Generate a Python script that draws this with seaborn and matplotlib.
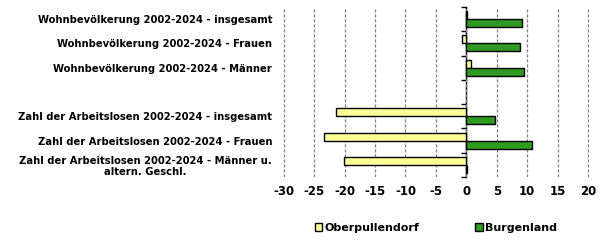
import matplotlib
matplotlib.use("Agg")
import matplotlib.pyplot as plt
import seaborn as sns
import pandas as pd
import numpy as np

categories = [
    "Wohnbevölkerung 2002-2024 - insgesamt",
    "Wohnbevölkerung 2002-2024 - Frauen",
    "Wohnbevölkerung 2002-2024 - Männer",
    " ",
    "Zahl der Arbeitslosen 2002-2024 - insgesamt",
    "Zahl der Arbeitslosen 2002-2024 - Frauen",
    "Zahl der Arbeitslosen 2002-2024 - Männer u.\naltern. Geschl.",
]
oberpullendorf = [0.1, -0.7, 0.75, np.nan, -21.4, -23.4, -20.1]
burgenland = [9.1, 8.75, 9.4, np.nan, 4.7, 10.7, 0.15]
series = ["Oberpullendorf", "Burgenland"]
colors = ["#FFFF99", "#2E9A1F"]
xticks = list(range(-30, 21, 5))

sns.set_theme(style="white")
plt.rcParams["font.family"] = ["DejaVu Sans"]
plt.rcParams["font.weight"] = "bold"
plt.rcParams["text.color"] = "black"
plt.rcParams["xtick.color"] = "black"
plt.rcParams["ytick.color"] = "black"

df = pd.DataFrame({
    "cat": categories * 2,
    "val": oberpullendorf + burgenland,
    "series": [series[0]] * len(categories) + [series[1]] * len(categories),
})

fig = plt.figure(figsize=(6.05, 2.44), dpi=100)
ax = fig.add_axes([0.468, 0.275, 0.505, 0.696])

sns.barplot(data=df, y="cat", x="val", hue="series", order=categories,
            hue_order=series, palette=colors, saturation=1, orient="h", width=0.66,
            edgecolor="black", linewidth=1, ax=ax, legend=True)

ax.set_xlim(-30.08, 20.08)
ax.set_ylim(len(categories) - 0.5, -0.5)
ax.set_xticks(xticks)
ax.set_xticklabels([str(t) for t in xticks], fontsize=8.5, fontweight="bold")
ax.set_yticks(range(len(categories)))
ax.set_yticklabels(categories, fontsize=7.2, fontweight="bold", multialignment="center")
ax.tick_params(axis="y", length=0, pad=8)
ax.tick_params(axis="x", length=0, pad=6)
ax.set_xlabel("")
ax.set_ylabel("")
for s in ax.spines.values():
    s.set_visible(False)
ax.grid(axis="x", color="#808080", linestyle=(0, (2.5, 1.5)), linewidth=0.9)
ax.grid(axis="y", visible=False)
ax.set_axisbelow(True)

sec = ax.secondary_yaxis(30.08 / 50.16)
sec.set_alignment("left")
sec.set_yticks(np.arange(-0.5, len(categories), 1.0))
sec.set_yticklabels([])
sec.tick_params(axis="y", length=3.5, width=1, color="black", direction="out")
for sp in sec.spines.values():
    sp.set_color("black")
    sp.set_linewidth(1)

handles, labels = ax.get_legend_handles_labels()
ax.legend(handles, labels, loc="upper center", bbox_to_anchor=(0.5, -0.21),
          ncol=2, frameon=False, handlelength=0.7, handleheight=0.7,
          handletextpad=0.2, columnspacing=5.0,
          prop={"size": 8, "weight": "bold"})

fig.savefig("out.png", dpi=100)
